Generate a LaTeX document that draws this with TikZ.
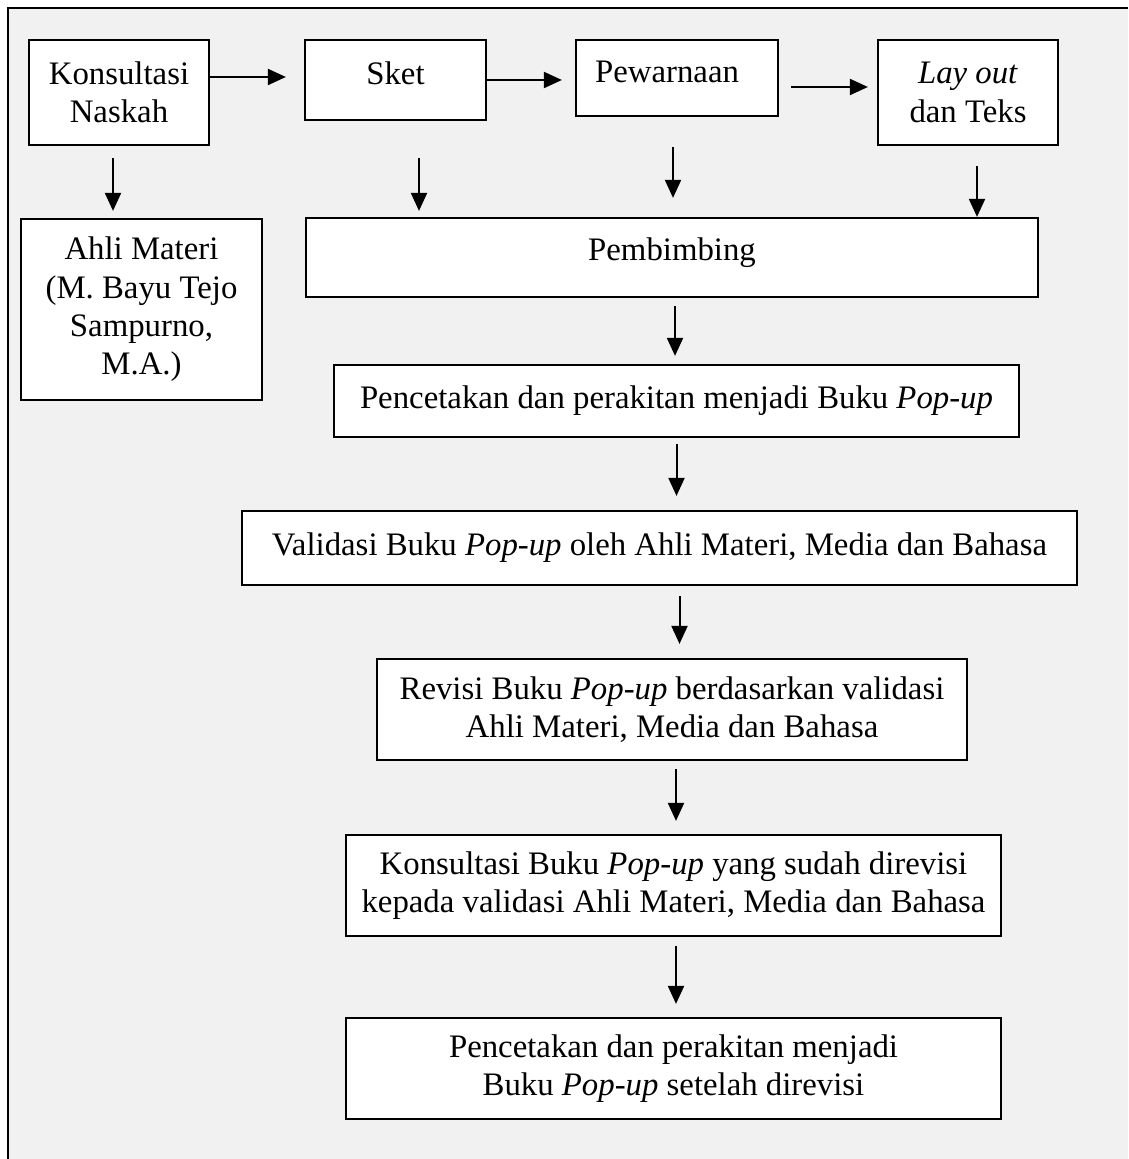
\documentclass[tikz,border=0pt]{standalone}
\usepackage{fontspec}
\setmainfont{Liberation Serif}
\usetikzlibrary{arrows.meta}
\definecolor{bggray}{HTML}{F1F1F1}
\tikzset{
  stage/.style={draw,fill=white,line width=1.1pt,align=center,inner sep=0pt},
  flow/.style={-{Triangle[length=9pt,width=8pt]},line width=1pt},
}

\begin{document}
\begin{tikzpicture}[x=0.5pt,y=-0.5pt,font=\fontsize{16.4}{19.2}\selectfont]
  \useasboundingbox (0,0) rectangle (1128,1159);
  \fill[bggray] (8,8) rectangle (1128,1159);
  \draw[line width=1.3pt] (8,1159) -- (8,8) -- (1128,8);
  \draw[every node/.append style={stage}]
    (119,92.5) node[minimum width=90pt,minimum height=52.5pt] (kons){Konsultasi\\Naskah}
    (395.5,80) node[minimum width=90.5pt,minimum height=40pt,text depth=7pt] (sket){Sket}
    (677,78) node[minimum width=101pt,minimum height=38pt,text depth=6pt] (warna){\hspace*{-10pt}Pewarnaan}
    (968,92.5) node[minimum width=90pt,minimum height=52.5pt] (layout){\textit{Lay out}\\dan Teks}
    (141.5,309.5) node[minimum width=120.5pt,minimum height=90.5pt] (ahli){Ahli Materi\\(M. Bayu Tejo\\Sampurno,\\M.A.)}
    (672,257.5) node[minimum width=366pt,minimum height=39.5pt,text depth=8.5pt] (bimbing){Pembimbing}
    (676.5,401) node[minimum width=342.5pt,minimum height=36pt] (cetak){Pencetakan dan perakitan menjadi Buku \textit{Pop-up}}
    (659.5,548) node[minimum width=417.5pt,minimum height=37pt] (valid){Validasi Buku \textit{Pop-up} oleh Ahli Materi, Media dan Bahasa}
    (672,709.5) node[minimum width=295pt,minimum height=50.5pt] (revisi){Revisi Buku \textit{Pop-up} berdasarkan validasi\\Ahli Materi, Media dan Bahasa}
    (673.5,885.5) node[minimum width=327.5pt,minimum height=50.5pt] (konsbuku){Konsultasi Buku \textit{Pop-up} yang sudah direvisi\\kepada validasi Ahli Materi, Media dan Bahasa}
    (673.5,1068.5) node[minimum width=327.5pt,minimum height=50.5pt] (akhir){Pencetakan dan perakitan menjadi\\Buku \textit{Pop-up} setelah direvisi};
  \begin{scope}[flow]
    % top row, left to right
    \draw[shorten >=9pt] ([yshift=7.75pt]kons.east) -- ([yshift=7.75pt]kons.east -| sket.west);
    \draw[shorten >=6.5pt] (sket.east) -- (sket.east -| warna.west);
    \draw[shorten <=6pt,shorten >=4.5pt] ([yshift=-4.5pt]warna.east) -- ([yshift=-4.5pt]warna.east -| layout.west);
    % down into the lower boxes
    \draw[shorten <=6pt,shorten >=3.5pt] ([xshift=-3pt]kons.south) -- ([xshift=-3pt]kons.south |- ahli.north);
    \draw[shorten <=18.5pt,shorten >=3pt] ([xshift=11.75pt]sket.south) -- ([xshift=11.75pt]sket.south |- bimbing.north);
    \draw[shorten <=15pt,shorten >=9.5pt] ([xshift=-2pt]warna.south) -- ([xshift=-2pt]warna.south |- bimbing.north);
    \draw[shorten <=10pt] ([xshift=4.5pt]layout.south) -- ([xshift=4.5pt]layout.south |- bimbing.north);
    \draw[shorten <=4pt,shorten >=4pt] ([xshift=1.5pt]bimbing.south) -- ([xshift=1.5pt]bimbing.south |- cetak.north);
    \draw[shorten <=3pt,shorten >=7pt] (cetak.south) -- (cetak.south |- valid.north);
    \draw[shorten <=5pt,shorten >=7pt] ([xshift=10pt]valid.south) -- ([xshift=10pt]valid.south |- revisi.north);
    \draw[shorten <=4pt,shorten >=6.5pt] ([xshift=2pt]revisi.south) -- ([xshift=2pt]revisi.south |- konsbuku.north);
    \draw[shorten <=4.5pt,shorten >=6.5pt] ([xshift=1.25pt]konsbuku.south) -- ([xshift=1.25pt]konsbuku.south |- akhir.north);
  \end{scope}
\end{tikzpicture}
\end{document}
